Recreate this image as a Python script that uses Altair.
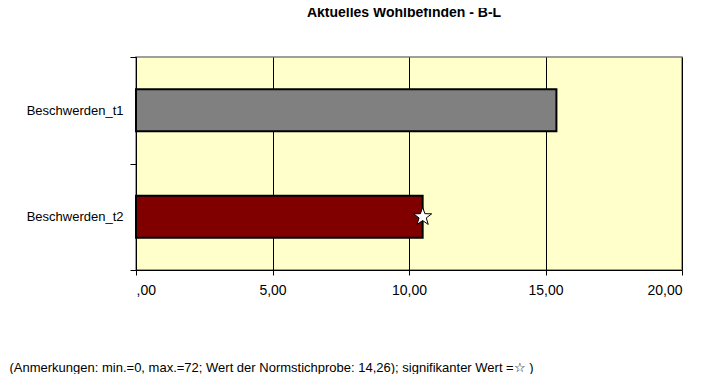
import altair as alt
import pandas as pd

categories = ["Beschwerden_t1", "Beschwerden_t2"]
values = [15.4, 10.5]
bar_colors = ["#808080", "#800000"]
sig_flags = [False, True]
x_ticks = [0, 5, 10, 15, 20]

title_text = "Aktuelles Wohlbefinden - B-L"
note_text = "(Anmerkungen: min.=0, max.=72; Wert der Normstichprobe: 14,26); signifikanter Wert =☆ )"

STAR = ("M0,-1L0.235,-0.324L0.951,-0.309L0.380,0.124L0.588,0.809L0,0.4"
        "L-0.588,0.809L-0.380,0.124L-0.951,-0.309L-0.235,-0.324Z")

df = pd.DataFrame({"cat": categories, "val": values, "color": bar_colors, "sig": sig_flags})
df_title = pd.DataFrame({"t": [title_text]})

font = "Liberation Sans"

y_enc = alt.Y("cat:N", sort=categories, title=None,
              scale=alt.Scale(paddingInner=0, paddingOuter=0),
              axis=alt.Axis(tickBand="extent", ticks=True, tickSize=6, tickColor="black",
                            domainColor="black", labelPadding=7, labelFont=font,
                            labelFontSize=13, labelColor="black", grid=False))
x_enc = alt.X("val:Q", title=note_text,
              scale=alt.Scale(domain=[0, 20], nice=False),
              axis=alt.Axis(values=x_ticks,
                            labelExpr="datum.value == 0 ? ',00' : datum.value + ',00'",
                            tickSize=5, tickColor="black", domainColor="black",
                            grid=True, gridColor="black", gridWidth=1, gridOpacity=1,
                            labelPadding=8, labelFont=font, labelFontSize=14, labelColor="black",
                            titleFont=font, titleFontSize=13, titleFontWeight="normal",
                            titleColor="black", titleAlign="left", titleBaseline="middle",
                            titleX=-127, titleY=97, titleAnchor="start"))

base = alt.Chart(df)

bars = base.mark_bar(stroke="black", strokeWidth=2, size=42).encode(
    x=x_enc, y=y_enc,
    color=alt.Color("color:N", scale=None),
)

stars = base.transform_filter("datum.sig").mark_point(
    shape=STAR, filled=True, fill="white", stroke="black", strokeWidth=1, size=360, opacity=1
).encode(x=x_enc, y=y_enc)

title = alt.Chart(df_title).mark_text(
    align="center", baseline="alphabetic", font=font, fontSize=14, fontWeight="bold", color="black"
).encode(x=alt.value(268), y=alt.value(-40), text="t:N")

chart = alt.layer(bars, stars, title).properties(
    width=546, height=213,
    autosize=alt.AutoSizeParams(type="none"),
    padding={"left": 128, "top": 49, "right": 18, "bottom": 104},
).configure(background="white").configure_view(
    fill="#FFFFCC", stroke="#808080", strokeWidth=1.5
)

chart.save("out.html", embed_options={"renderer": "svg", "actions": False})
